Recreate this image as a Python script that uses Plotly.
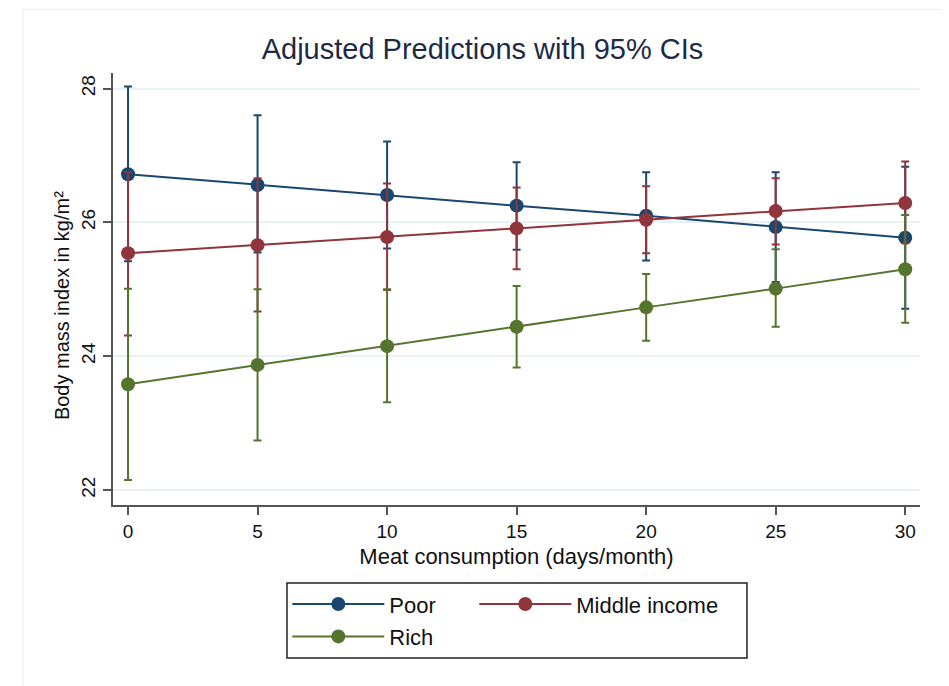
import plotly.graph_objects as go

# Meat consumption (days/month)
days = [0, 5, 10, 15, 20, 25, 30]

# Adjusted predictions of BMI and 95% CI bounds
poor_bmi = [26.72, 26.56, 26.41, 26.25, 26.10, 25.93, 25.77]
poor_hi = [28.03, 27.60, 27.21, 26.90, 26.75, 26.75, 26.83]
poor_lo = [25.42, 25.55, 25.61, 25.59, 25.43, 25.11, 24.71]

middle_bmi = [25.54, 25.66, 25.78, 25.91, 26.04, 26.17, 26.29]
middle_hi = [26.75, 26.66, 26.58, 26.52, 26.54, 26.66, 26.91]
middle_lo = [24.31, 24.67, 24.99, 25.30, 25.54, 25.67, 25.69]

rich_bmi = [23.58, 23.87, 24.15, 24.44, 24.73, 25.01, 25.30]
rich_hi = [25.01, 25.00, 25.00, 25.05, 25.23, 25.60, 26.11]
rich_lo = [22.15, 22.74, 23.31, 23.83, 24.23, 24.44, 24.50]

x_ticks = [0, 5, 10, 15, 20, 25, 30]
y_ticks = [22, 24, 26, 28]

FONT = "Liberation Sans, Arial, sans-serif"

# one legend per entry so the 2x2 layout of the Stata legend can be kept
series = [
    ("Poor", poor_bmi, poor_hi, poor_lo, "#1a476f", "legend"),
    ("Middle income", middle_bmi, middle_hi, middle_lo, "#90353b", "legend2"),
    ("Rich", rich_bmi, rich_hi, rich_lo, "#55752f", "legend3"),
]

fig = go.Figure()

for name, bmi, hi, lo, color, legend in series:
    fig.add_trace(
        go.Scatter(
            x=days,
            y=bmi,
            name=name,
            mode="lines+markers",
            line=dict(color=color, width=2),
            marker=dict(color=color, size=14),
            error_y=dict(
                type="data",
                symmetric=False,
                array=[h - b for h, b in zip(hi, bmi)],
                arrayminus=[b - l for b, l in zip(bmi, lo)],
                color=color,
                thickness=2,
                width=4,
            ),
            legend=legend,
        )
    )

legend_style = dict(
    orientation="h",
    xanchor="left",
    yanchor="top",
    font=dict(family=FONT, size=22, color="#111111"),
    bgcolor="rgba(0,0,0,0)",
    borderwidth=0,
    itemwidth=92,
)

# the page has an 8px body margin, so margins are shifted to compensate
fig.update_layout(
    width=949,
    height=686,
    paper_bgcolor="white",
    plot_bgcolor="white",
    margin=dict(l=105, r=37, t=65, b=189),
    title=dict(
        text="Adjusted Predictions with 95% CIs",
        x=0.5,
        xanchor="center",
        y=0.94,
        yanchor="middle",
        font=dict(family=FONT, size=29, color="#1e2a44"),
    ),
    font=dict(family=FONT, size=19, color="#111111"),
    legend=dict(x=0.216, y=-0.181, **legend_style),
    legend2=dict(x=0.4477, y=-0.181, **legend_style),
    legend3=dict(x=0.216, y=-0.256, **legend_style),
    showlegend=True,
    annotations=[
        dict(
            text="Body mass index in kg/m²",
            xref="paper", yref="paper",
            x=-0.0632, y=0.4627,
            xanchor="center", yanchor="middle",
            textangle=-90,
            showarrow=False,
            font=dict(family=FONT, size=20, color="#111111"),
        )
    ],
    shapes=[
        # legend frame
        dict(
            type="rect", xref="paper", yref="paper",
            x0=0.2156, x1=0.7856, y0=-0.354, y1=-0.1804,
            line=dict(color="#222222", width=1.5),
        ),
        # faint outer frame of the graph region
        dict(
            type="rect", xref="paper", yref="paper",
            x0=-0.1115, x1=1.0285, y0=-0.45, y1=1.147,
            line=dict(color="#eeeeee", width=1),
        ),
    ],
)

fig.update_xaxes(
    range=[-0.58, 30.57],
    tickvals=x_ticks,
    ticks="outside",
    ticklen=8,
    tickwidth=1.5,
    tickcolor="#555555",
    showline=True,
    linecolor="#555555",
    linewidth=2,
    showgrid=False,
    zeroline=False,
    tickfont=dict(family=FONT, size=19, color="#111111"),
    title=dict(text="Meat consumption (days/month)", standoff=8,
               font=dict(family=FONT, size=22, color="#111111")),
)

fig.update_yaxes(
    range=[21.776, 28.233],
    tickvals=y_ticks,
    tickangle=-90,
    ticks="outside",
    ticklen=8,
    tickwidth=1.5,
    tickcolor="#555555",
    showline=True,
    linecolor="#555555",
    linewidth=2,
    showgrid=True,
    gridcolor="#e8f1f3",
    gridwidth=1.5,
    zeroline=False,
    tickfont=dict(family=FONT, size=19, color="#111111"),
)

fig.write_html("out.html")
